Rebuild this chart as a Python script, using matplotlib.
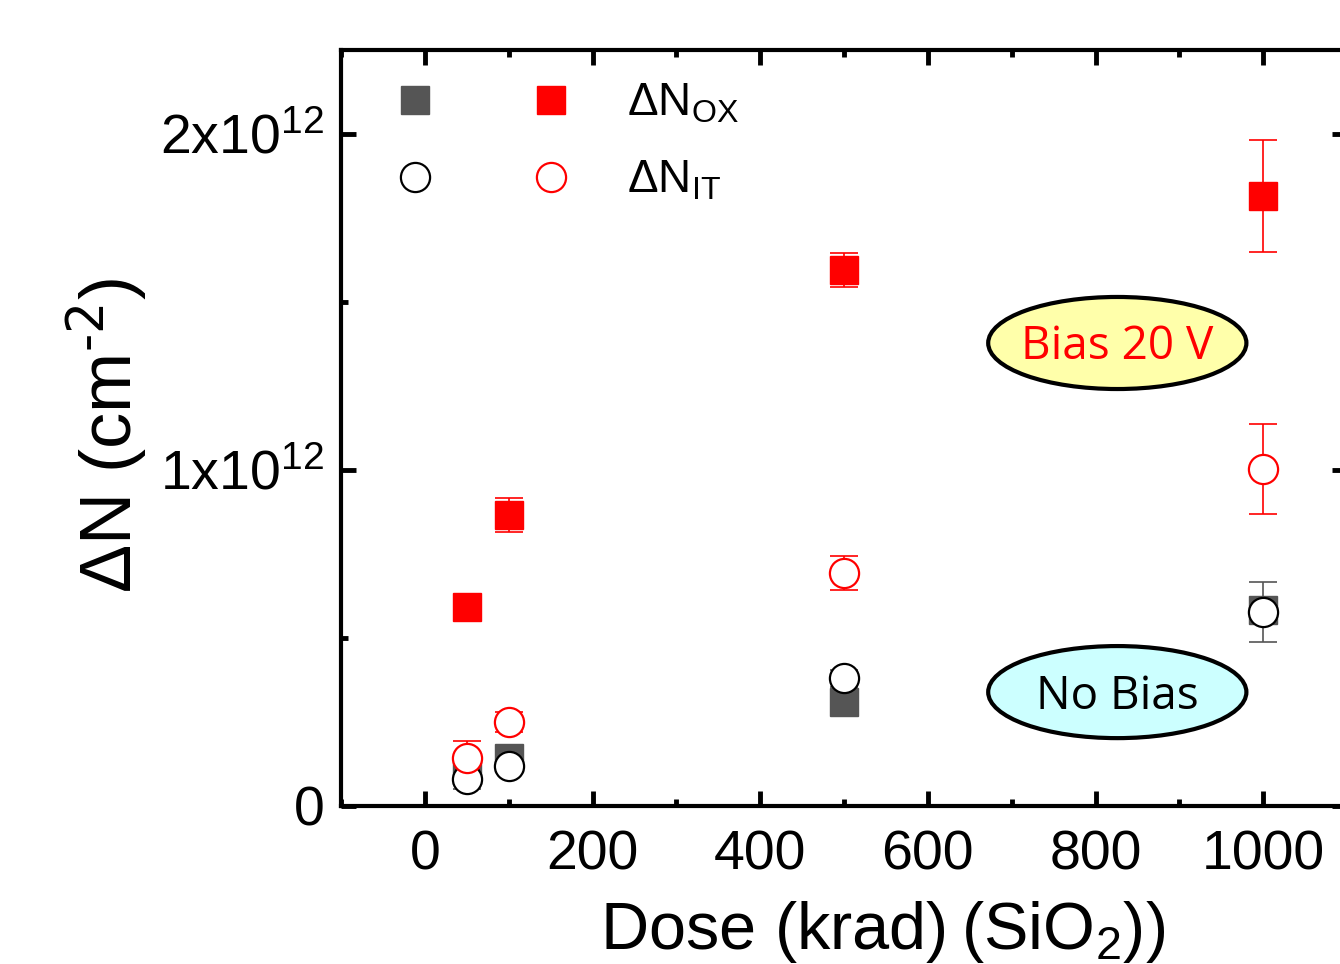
import matplotlib.pyplot as plt
from matplotlib.patches import Ellipse
from matplotlib.legend_handler import HandlerTuple
from matplotlib.ticker import MultipleLocator

# data (dose in krad(SiO2), densities in cm^-2)
dose = [50, 100, 500, 1000]

nox_bias = [0.592e12, 0.866e12, 1.595e12, 1.815e12]
nox_bias_err = [0.02e12, 0.05e12, 0.05e12, 0.167e12]
nit_bias = [0.143e12, 0.25e12, 0.693e12, 1.003e12]
nit_bias_err = [0.05e12, 0.03e12, 0.05e12, 0.135e12]

nox_nobias = [0.107e12, 0.143e12, 0.31e12, 0.583e12]
nox_nobias_err = [0.02e12, 0.02e12, 0.02e12, 0.03e12]
nit_nobias = [0.08e12, 0.12e12, 0.38e12, 0.577e12]
nit_nobias_err = [0.03e12, 0.02e12, 0.025e12, 0.09e12]

x_ticks = [0, 200, 400, 600, 800, 1000]
y_ticks = [0, 1e12, 2e12]
y_ticklabels = ['0', '1x10$^{12}$', '2x10$^{12}$']

plt.rcParams['font.family'] = ['Liberation Sans', 'DejaVu Sans']
plt.rcParams['mathtext.default'] = 'regular'

fig = plt.figure(figsize=(13.4, 9.64), dpi=100)
ax = fig.add_axes([341 / 1340, 158 / 964, 1006 / 1340, 756 / 964])

gray = '#555555'
red = '#ff0000'

# error bars first, markers on top (white filled circles)
ax.errorbar(dose, nox_nobias, yerr=nox_nobias_err, fmt='none', ecolor=gray,
            elinewidth=1.2, capsize=10, capthick=1.2, zorder=2)
ax.errorbar(dose, nit_nobias, yerr=nit_nobias_err, fmt='none', ecolor=gray,
            elinewidth=1.2, capsize=10, capthick=1.2, zorder=2)
ax.errorbar(dose, nox_bias, yerr=nox_bias_err, fmt='none', ecolor=red,
            elinewidth=1.2, capsize=10, capthick=1.2, zorder=2)
ax.errorbar(dose, nit_bias, yerr=nit_bias_err, fmt='none', ecolor=red,
            elinewidth=1.2, capsize=10, capthick=1.2, zorder=2)

sq_nb, = ax.plot(dose, nox_nobias, 's', ms=20, color=gray, mec=gray, zorder=3)
ci_nb, = ax.plot(dose, nit_nobias, 'o', ms=21, mfc='white', mec='black', mew=1.6, zorder=3.1)
sq_b, = ax.plot(dose, nox_bias, 's', ms=20, color=red, mec=red, zorder=3.2)
ci_b, = ax.plot(dose, nit_bias, 'o', ms=21, mfc='white', mec=red, mew=1.6, zorder=3.3)

ax.set_xlim(-100, 1100)
ax.set_ylim(0, 2.25e12)
ax.set_xticks(x_ticks)
ax.xaxis.set_minor_locator(MultipleLocator(100))
ax.set_yticks(y_ticks)
ax.set_yticklabels(y_ticklabels)
ax.yaxis.set_minor_locator(MultipleLocator(0.5e12))

ax.tick_params(which='both', direction='in', top=True, right=True, width=3.5)
ax.tick_params(which='major', length=11)
ax.tick_params(which='minor', length=5)
ax.tick_params(axis='x', labelsize=40, pad=17)
ax.tick_params(axis='y', labelsize=40, pad=12)
for s in ax.spines.values():
    s.set_linewidth(3)

ax.set_xlabel('Dose (krad)\u2009(SiO$_2$))', fontsize=48)
ax.xaxis.set_label_coords((883 - 341) / 1006, -0.123)
ax.xaxis.label.set_va('top')
ax.set_ylabel('ΔN (cm$^{\\text{-2}}$)', fontsize=52)
ax.yaxis.set_label_coords(-0.19, 0.49)

# legend: two marker columns (no bias / bias) sharing one label
ax.legend([(sq_nb, sq_b), (ci_nb, ci_b)], ['ΔN$_{OX}$', 'ΔN$_{IT}$'],
          handler_map={tuple: HandlerTuple(ndivide=None, pad=1.22)},
          loc='upper left', bbox_to_anchor=((375 - 341) / 1006, 0.958),
          frameon=False, fontsize=33, handlelength=4.7, handletextpad=0.79,
          borderpad=0, borderaxespad=0, labelspacing=0.72)

# bias condition tags
ax.add_patch(Ellipse((826, 1.378e12), 308, 0.274e12, fc='#ffffaa', ec='black', lw=3, zorder=4))
ax.text(826, 1.366e12, 'Bias 20 V', color=red, fontsize=33, family='Open Sans',
        ha='center', va='center', zorder=5)
ax.add_patch(Ellipse((826, 0.339e12), 308, 0.274e12, fc='#ccffff', ec='black', lw=3, zorder=4))
ax.text(826, 0.325e12, 'No Bias', color='black', fontsize=33, family='Open Sans',
        ha='center', va='center', zorder=5)

plt.savefig('out.png', dpi=100)
